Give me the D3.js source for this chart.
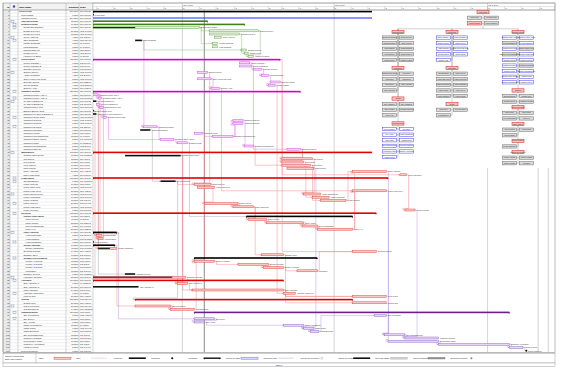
<!DOCTYPE html>
<html><head><meta charset="utf-8">
<script src="https://cdn.jsdelivr.net/npm/d3@7"></script>
<style>body{margin:0;background:#fff}svg{display:block;font-family:"Liberation Sans",Arial,sans-serif}</style>
</head><body><svg id="c" width="561" height="368"></svg>
<script>
// ---------------- DATA ----------------
const taskNames = ["Project Plan","Project Start","Contract Period","Concept Design","Detailed Design","Design Specification","Design Review 1","Design Review 2","Client Approval","Issue Drawings","Update Drawings","Final Drawings","Drawing Sign-off","Design Freeze","Handover to Build",
"Procurement","Tender Package A","Tender Package B","Evaluate Tenders","Supplier Survey","Award Contracts","Order Long Lead Items","Expedite Orders","Goods Inwards","Supplier Audit",
"Transport System","Transport Frame Assy 1","Transport Frame Assy 2","Ice Speed Bracket 1","Ice Speed Bracket 2","Transport Drive Unit","Bracket Sample Sent","Transport Ice Speed Bracket 1","Transport Guide Rails","Transport Test Rig","Transport Controls","Transport Sensors","Transport Rig Build","Transport Wiring","Transport Commissioning","Transport Safety Check","Transport Trials","Transport Modifications","Transport Sign-off",
"Manufacture","Machine Shop Setup","Cut Panels","Fold Panels","Weld Panels","Paint Panels","Panel Assembly","Panel Inspection",
"Frame Build","Jig Manufacture","Frame Cut List","Frame Tack Weld","Frame Final Weld","Frame Stress Relief","Frame Machining","Frame Coating","Frame Trial Fit","Frame Inspection","Frame Release",
"Electrical","Control Panel Build","Panel Layout","Panel Wiring","PLC Programming","Panel FAT","Cable Harness","Harness Design","Harness Build","Harness Sample","Sensor Package","Sensor Calibration","Electrical Checks","Software Spec","Software Development","Module 1 Coding","Module 2 Coding","Module 3 Coding","Integration","Software Review","Hardware Interface",
"Assembly","Sub-Assembly 1","Sub-Assembly 2","Main Assembly","Assembly Inspection","Final Fit Out",
"Testing","System Test","Test Procedures","Test Equipment",
"Commissioning","Site Preparation","Site Survey","Site Access","Install Foundations","Install Frame","Install Electrical","Site Commissioning","Customer Training","Performance Trials","Customer Acceptance","Handover Docs",
"Project Complete"];
const levels = [0,1,1,1,1,2,2,2,2,2,2,2,2,2,2,
1,2,2,2,2,2,2,2,2,2,
1,2,2,2,2,2,2,2,2,2,2,2,2,2,2,2,2,2,2,
1,2,2,2,2,2,2,2,
1,2,2,2,2,2,2,2,2,2,2,
1,2,3,3,3,3,2,3,3,3,2,3,2,2,2,3,3,3,3,2,2,
1,2,2,2,2,2,
1,2,2,2,
1,2,2,2,2,2,2,2,2,2,2,2,
1];
const kinds = ["P","M","B","SG","SG","G","G","G","G","K","G","G","G","G","G",
"SM","MT","MT","MT","MT","MT","MT","MT","MT","MT",
"SM","MT","MT","K","MT","MT","M","K","MT","MT","MT","MT","K","MT","MT","MT","MT","MT","MT",
"SR","K","C","C","C","C","C","C",
"SR","K","C","C","C","C","C","C","C","C","C",
"SR","S","C","C","C","C","S","C","C","M","S","C","C","C","S","C","C","C","C","K","C",
"SR","C","K","C","C","C",
"SR","C","C","C",
"SP","N","N","N","N","N","N","N","N","N","N","N",
"M"];
// bar start / finish, in days from Thu 11/9/06
const fromDays = [0,0,0,0,0,0,69,69,72,25,71,71,88,90,92,
0,87,87,95,62,100,62,105,104,70,
0,0,3,0,2,4,0,0,6,83,83,30,28,60,71,40,50,90,115,
0,19,112,112,112,115,154,182,
0,40,60,62,154,125,130,135,66,83,185,
0,91,92,103,124,133,0,2,3,0,0,3,154,100,60,60,86,101,121,19,0,
0,50,0,59,113,154,
25,154,25,46,
60,167,60,60,113,125,129,173,185,175,205,247,
257];
const toDays = [270,0,274,68,90,63,98,87,76,29,74,74,91,92,95,
111,93,94,100,68,104,70,111,108,75,
123,3,5,2,4,6,0,2,8,89,89,38,34,65,83,48,56,95,123,
168,52,130,125,129,131,174,186,
175,49,70,72,174,135,140,150,86,95,191,
168,154,103,125,133,154,14,5,6,0,13,14,168,113,133,72,104,113,133,25,55,
113,56,27,113,120,174,
154,174,46,60,
247,174,72,66,125,131,134,185,205,205,247,255,
257];
const progressDays = {5:25, 83:47, 74:10};
const links = [[5,6],[5,10],[9,12],[7,13],[6,14],[9,36],[21,24],[38,39],[39,34],[39,35],[34,42],[16,18],[18,20],[20,23],[17,43],
[26,27],[29,30],[30,33],[28,82],[32,74],[33,40],[36,40],[40,41],[37,53],[45,85],[53,54],[54,60],[60,61],[61,65],[65,66],[66,67],[67,68],
[68,50],[68,56],[50,101],[56,103],[51,62],[62,102],[46,57],[47,58],[48,59],[49,99],[43,46],[43,47],[42,48],[69,96],[69,70],[70,71],[73,92],
[92,93],[93,78],[78,79],[79,80],[80,81],[83,85],[85,87],[87,89],[87,91],[96,97],[97,98],[98,99],[99,100],[100,95],[95,101],[101,102],[103,104],
[104,105],[105,106],[59,50],[38,78],[15,75],[24,56],[41,64],[22,51],[23,88],[61,76],[81,75],[76,89],[26,70],[27,71],[31,83],[45,87],[53,90],[19,54]];
const noteRows = [3,4,5,8,9,15,19,25,27,28,33,36,44,52,53,57,60,63,69,72,77,83,84,88,92,94,96];
const markerDays = [66, 264, 270];   // status date, finish markers
const legendItems = ["Task","Split","Progress","Milestone","Summary","Rolled Up Task","Rolled Up Split","Rolled Up Milestone","Rolled Up Progress","External Tasks","Project Summary","External Milestone"];
const headerLabels = ["ID","Task Name","Duration","Start"];

// ---------------- SETUP ----------------
const svg = d3.select('#c');
svg.append('rect').attr('width',561).attr('height',368).attr('fill','#fff');
const colX = [3,10,18,66,79,93];
const GX0 = 93, GX1 = 555, TOP = 3, HB = 10, RH = 3.2;
const n = taskNames.length;
const rowY = i => HB + RH*i;
const rowC = i => HB + RH*(i+0.5);
const TB = rowY(n);
const origin = new Date(2006,10,9);
const x = d3.scaleTime().domain([origin, new Date(2007,7,10)]).range([GX0,GX1]);
const dx = d => x(d3.timeDay.offset(origin,d));
const fmt = d3.timeFormat('%a %-m/%-d/%y');

// ---------------- TABLE ----------------
const tbl = svg.append('g');
tbl.append('rect').attr('x',3).attr('y',TOP).attr('width',90).attr('height',HB-TOP).attr('fill','#f2f2f2');
tbl.append('rect').attr('x',3).attr('y',HB).attr('width',7).attr('height',TB-HB).attr('fill','#ececec');
tbl.selectAll('line.r').data(d3.range(n+1)).join('line')
  .attr('x1',3).attr('x2',GX0).attr('y1',rowY).attr('y2',rowY).attr('stroke','#c4c4c4').attr('stroke-width',0.3);
tbl.selectAll('line.c').data(colX).join('line')
  .attr('x1',d=>d).attr('x2',d=>d).attr('y1',TOP).attr('y2',TB).attr('stroke','#999').attr('stroke-width',0.4);
const hx = [9.5,19,78.5,80];
tbl.selectAll('text.h').data(headerLabels).join('text')
  .attr('x',(d,i)=>hx[i]).attr('y',7.6).attr('font-size',2.4).attr('font-weight','bold')
  .attr('text-anchor',(d,i)=>i==0||i==2?'end':'start').text(d=>d);
tbl.append('circle').attr('cx',14).attr('cy',6.5).attr('r',1.2).attr('fill','#3050c0');
const isSum = k => ['P','S','SR','SM','SG','SP'].includes(k);
const rows = d3.range(n);
tbl.selectAll('text.id').data(rows).join('text').attr('x',9.5).attr('y',i=>rowC(i)+0.8)
  .attr('font-size',2.1).attr('text-anchor','end').attr('fill','#333').text(i=>i+1);
tbl.selectAll('text.nm').data(rows).join('text').attr('x',i=>19+levels[i]*2.2).attr('y',i=>rowC(i)+0.8)
  .attr('font-size',2.2).attr('font-weight',i=>isSum(kinds[i])?'bold':'normal').attr('fill','#222').text(i=>taskNames[i]);
tbl.selectAll('text.du').data(rows).join('text').attr('x',78.3).attr('y',i=>rowC(i)+0.8)
  .attr('font-size',2.1).attr('text-anchor','end').attr('fill','#222')
  .text(i=>{const d=toDays[i]-fromDays[i]; return d==1?'1 day':d+' days';});
tbl.selectAll('text.st').data(rows).join('text').attr('x',80).attr('y',i=>rowC(i)+0.8)
  .attr('font-size',2.1).attr('fill','#222').text(i=>fmt(d3.timeDay.offset(origin,fromDays[i])));
tbl.selectAll('rect.note').data(noteRows).join('rect').attr('x',(d,j)=>j%3==0?11:13).attr('y',i=>rowY(i)+0.6)
  .attr('width',3).attr('height',2).attr('fill','#fff').attr('stroke','#4a6a9a').attr('stroke-width',0.35);

// ---------------- GANTT ----------------
const gan = svg.append('g');
svg.append('clipPath').attr('id','gclip').append('rect').attr('x',GX0).attr('y',HB).attr('width',GX1-GX0).attr('height',TB-HB);
const gc = gan.append('g').attr('clip-path','url(#gclip)');
const qTicks = d3.timeMonth.every(3).range(origin, new Date(2007,7,10));
gc.selectAll('line.q').data(qTicks).join('line').attr('x1',x).attr('x2',x).attr('y1',HB).attr('y2',TB)
  .attr('stroke','#b8b8b8').attr('stroke-width',0.6);
gc.selectAll('line.m').data(markerDays).join('line').attr('x1',dx).attr('x2',dx).attr('y1',HB).attr('y2',TB)
  .attr('stroke',(d,i)=>i==0?'#8a8a8a':'#b0b0b0').attr('stroke-width',(d,i)=>i==0?1:0.6);

// links
const linkColor = k => k=='C'?'#f08c8c':k=='N'?'#b89ae0':k=='MT'?'#e07ef0':k=='G'?'#8fc27a':'#a8a8a8';
const defs = svg.append('defs');
const lcols = ['#f08c8c','#b89ae0','#e07ef0','#8fc27a','#a8a8a8'];
lcols.forEach((c,j)=>{
  defs.append('marker').attr('id','ar'+j).attr('viewBox','0 0 4 4').attr('refX',4).attr('refY',2)
   .attr('markerWidth',1.4).attr('markerHeight',1.4).attr('markerUnits','userSpaceOnUse').attr('orient','auto')
   .append('path').attr('d','M0,0L4,2L0,4Z').attr('fill',c);
});
gc.selectAll('path.lk').data(links).join('path')
  .attr('d',([p,s])=>{
    const x1=dx(toDays[p]), y1=rowC(p), x2=dx(fromDays[s]), y2=rowC(s), xv=x1+2;
    if (x2>=xv+1) return `M${x1},${y1}H${xv}V${y2}H${x2}`;
    const yb = y2>y1 ? y2-RH/2 : y2+RH/2;
    return `M${x1},${y1}H${xv}V${yb}H${x2-2}V${y2}H${x2}`;
  })
  .attr('fill','none').attr('stroke',([p,s])=>linkColor(kinds[s])).attr('stroke-width',0.5)
  .attr('marker-end',([p,s])=>`url(#ar${lcols.indexOf(linkColor(kinds[s]))})`);

// bars
const sumColor = {P:'#000',S:'#000',SR:'#e00000',SM:'#d000d0',SG:'#3f7f1c',SP:'#6a1f8a'};
const taskStyle = {C:['#f9c9c9','#e23a3a'],N:['#e4d6f4','#8e62c2'],MT:['#f4d2f8','#c64ee0'],G:['#e4f2dc','#5e9e42']};
rows.forEach(i=>{
  const k=kinds[i], a=dx(fromDays[i]), b=dx(toDays[i]), c=rowC(i);
  if (isSum(k)) {
    const col=sumColor[k], th = 1.6;
    gc.append('rect').attr('x',a).attr('y',c-th/2).attr('width',b-a).attr('height',th).attr('fill',col);
    gc.append('path').attr('d',`M${b-1.2},${c}L${b+0.6},${c}L${b-0.3},${c+1.5}Z`).attr('fill',col);
    gc.append('path').attr('d',`M${a-0.6},${c}L${a+1.2},${c}L${a+0.3},${c+1.5}Z`).attr('fill',col);
  } else if (k=='B') {
    gc.append('rect').attr('x',a).attr('y',c-0.5).attr('width',b-a).attr('height',1).attr('fill','#1a2bff');
  } else if (k=='K') {
    gc.append('rect').attr('x',a).attr('y',c-0.8).attr('width',b-a).attr('height',1.6).attr('fill','#111');
  } else if (k=='M') {
    gc.append('path').attr('d',`M${a},${c-1.2}L${a+1.2},${c}L${a},${c+1.2}L${a-1.2},${c}Z`).attr('fill','#111');
  } else {
    const [f,s]=taskStyle[k];
    gc.append('rect').attr('x',a).attr('y',c-1).attr('width',b-a).attr('height',2).attr('fill',f).attr('stroke',s).attr('stroke-width',0.45);
    if (progressDays[i]!==undefined) gc.append('rect').attr('x',a).attr('y',c-0.5).attr('width',dx(progressDays[i])-a).attr('height',1).attr('fill','#111');
  }
  if (!isSum(k) && k!='B') {
    gc.append('text').attr('x',b+1.6).attr('y',c+0.7).attr('font-size',1.8).attr('fill','#333').text(taskNames[i]);
  }
});

// ---------------- WBS CHART ----------------
const nodes = rows.map(i=>({i,level:levels[i],kind:kinds[i],children:[]}));
const stack=[];
nodes.forEach(nd=>{ while(stack.length && stack[stack.length-1].level>=nd.level) stack.pop();
  if(stack.length) stack[stack.length-1].children.push(nd); stack.push(nd); });
const root = nodes[0];
const WX0=372, WX1=555, WY0=9, WY1=168;
const wbs = svg.append('g');
wbs.append('rect').attr('x',WX0).attr('y',WY0).attr('width',WX1-WX0).attr('height',WY1-WY0).attr('fill','#fff');
const boxes=[], conns=[];
const STEP=5.6, BH=3.3, BW=14, HW=12;
const boxStyle = k => isSum(k)?['#f6c4c4','#e01818']:(k=='N'||k=='MT')?['#ffffff','#4040f0']:['#dcdcdc','#6a6a6a'];
function place(nd, cx, y0) {
  boxes.push({nd,x:cx-HW/2,y:y0,w:HW});
  let y = y0+STEP;
  const leaves = nd.children.filter(c=>!c.children.length), inner = nd.children.filter(c=>c.children.length);
  let last = y0+BH;
  leaves.forEach((c,k)=>{
    const left = k%2==0, by = y+Math.floor(k/2)*STEP;
    const bx = left ? cx-1.5-BW : cx+1.5;
    boxes.push({nd:c,x:bx,y:by,w:BW});
    conns.push(`M${cx},${by+BH/2}H${left?bx+BW:bx}`);
    last = by+BH/2;
  });
  y += Math.ceil(leaves.length/2)*STEP;
  inner.forEach(c=>{
    last = y;
    y = place(c, cx, y);
  });
  conns.push(`M${cx},${y0+BH}V${last}`);
  return y;
}
const rootLeaves = root.children.filter(c=>!c.children.length);
const groups = root.children.filter(c=>c.children.length);
const rootCX = 483, rootY = WY0+1.5;
boxes.push({nd:root,x:rootCX-HW/2,y:rootY,w:HW});
let ry = rootY+STEP;
rootLeaves.forEach((c,k)=>{
  const left=k%2==0, by = ry+Math.floor(k/2)*STEP, bx = left? rootCX-1.5-BW : rootCX+1.5;
  boxes.push({nd:c,x:bx,y:by,w:BW});
  conns.push(`M${rootCX},${by+BH/2}H${left?bx+BW:bx}`);
});
const colTop = ry+Math.ceil(rootLeaves.length/2)*STEP+3;
const colCX = [398, 452, 518];
const heights = colCX.map(()=>colTop);
conns.push(`M${rootCX},${rootY+BH}V${colTop-1.5}`);
conns.push(`M${colCX[0]},${colTop-1.5}H${colCX[2]}`);
groups.forEach(gp=>{
  const cI = heights.indexOf(d3.min(heights));
  const cx = colCX[cI];
  conns.push(`M${cx},${colTop-1.5}V${heights[cI]}`);
  heights[cI] = place(gp, cx, heights[cI]) + 2.5;
});
wbs.selectAll('path.cn').data(conns).join('path').attr('d',d=>d).attr('fill','none').attr('stroke','#9a9a9a').attr('stroke-width',0.45);
wbs.selectAll('rect.bx').data(boxes).join('rect').attr('x',d=>d.x).attr('y',d=>d.y).attr('width',d=>d.w).attr('height',BH)
  .attr('fill',d=>boxStyle(d.nd.kind)[0]).attr('stroke',d=>boxStyle(d.nd.kind)[1]).attr('stroke-width',0.5);
wbs.selectAll('text.bx').data(boxes).join('text').attr('x',d=>d.x+d.w/2).attr('y',d=>d.y+2.2).attr('text-anchor','middle')
  .attr('font-size',1.5).attr('fill','#222').text(d=>taskNames[d.nd.i]);

// ---------------- TIMESCALE HEADER ----------------
const hdr = svg.append('g');
hdr.append('rect').attr('x',GX0).attr('y',TOP).attr('width',GX1-GX0).attr('height',HB-TOP).attr('fill','#fff').attr('stroke','#999').attr('stroke-width',0.4);
hdr.append('line').attr('x1',GX0).attr('x2',GX1).attr('y1',6.6).attr('y2',6.6).attr('stroke','#999').attr('stroke-width',0.3);
const minorInt = d3.timeDay.filter(d=>[1,11,21].includes(d.getDate()));
const minor = minorInt.range(origin, new Date(2007,7,10));
hdr.selectAll('line.mi').data(minor).join('line').attr('x1',x).attr('x2',x).attr('y1',6.6).attr('y2',HB).attr('stroke','#999').attr('stroke-width',0.3);
hdr.selectAll('text.mi').data(minor).join('text').attr('x',d=>x(d)+1).attr('y',9.2).attr('font-size',1.7).attr('fill','#444')
  .text(d=>d.getDate()==1?'B':d.getDate()==11?'M':'E');
hdr.selectAll('line.qt').data(qTicks).join('line').attr('x1',x).attr('x2',x).attr('y1',TOP).attr('y2',HB).attr('stroke','#999').attr('stroke-width',0.4);
hdr.selectAll('text.qt').data(qTicks).join('text').attr('x',d=>x(d)+1).attr('y',5.6).attr('font-size',1.9).attr('fill','#333')
  .text(d=>`Qtr ${Math.floor(d.getMonth()/3)+1}, ${d.getFullYear()}`);
hdr.append('line').attr('x1',3).attr('x2',GX1).attr('y1',HB).attr('y2',HB).attr('stroke','#777').attr('stroke-width',0.5);

// ---------------- LEGEND & FOOTER ----------------
const LY0 = TB+1, LY1 = 363;
const lg = svg.append('g');
lg.append('rect').attr('x',3).attr('y',LY0).attr('width',GX1-3).attr('height',LY1-LY0).attr('fill','#fff').attr('stroke','#888').attr('stroke-width',0.4);
lg.append('line').attr('x1',36).attr('x2',36).attr('y1',LY0).attr('y2',LY1).attr('stroke','#888').attr('stroke-width',0.4);
lg.append('text').attr('x',5).attr('y',LY0+3.5).attr('font-size',2.1).text('Project: Project Plan');
lg.append('text').attr('x',5).attr('y',LY0+6.5).attr('font-size',2.1).text('Date: Mon 1/15/07');
const ly = (LY0+LY1)/2;
legendItems.forEach((t,j)=>{
  const lx = 39 + j*37.4;
  lg.append('text').attr('x',lx).attr('y',ly+0.8).attr('font-size',2.1).attr('fill','#222').text(t);
  const sx = lx+15;
  if (j==0) lg.append('rect').attr('x',sx).attr('y',ly-1).attr('width',17).attr('height',2).attr('fill','#f9c9c9').attr('stroke','#e23a3a').attr('stroke-width',0.45);
  else if (j==1) lg.append('line').attr('x1',sx).attr('x2',sx+15).attr('y1',ly).attr('y2',ly).attr('stroke','#e23a3a').attr('stroke-width',0.4).attr('stroke-dasharray','1,1');
  else if (j==2 || j==8) lg.append('rect').attr('x',sx).attr('y',ly-0.8).attr('width',17).attr('height',1.6).attr('fill','#111');
  else if (j==3 || j==11) lg.append('path').attr('d',`M${sx+6},${ly-1.3}L${sx+7.3},${ly}L${sx+6},${ly+1.3}L${sx+4.7},${ly}Z`).attr('fill',j==3?'#111':'#888');
  else if (j==4) { lg.append('rect').attr('x',sx).attr('y',ly-0.7).attr('width',17).attr('height',1.4).attr('fill','#111');
    lg.append('path').attr('d',`M${sx},${ly}h1.6l-0.8,1.4z M${sx+17},${ly}h-1.6l0.8,1.4z`).attr('fill','#111'); }
  else if (j==5) lg.append('rect').attr('x',sx).attr('y',ly-1).attr('width',17).attr('height',2).attr('fill','#d8d8ff').attr('stroke','#6a6ae0').attr('stroke-width',0.45);
  else if (j==6) lg.append('line').attr('x1',sx).attr('x2',sx+15).attr('y1',ly).attr('y2',ly).attr('stroke','#8a8ae0').attr('stroke-width',0.4);
  else if (j==7) lg.append('path').attr('d',`M${sx+6},${ly-1.3}L${sx+7.3},${ly}L${sx+6},${ly+1.3}L${sx+4.7},${ly}Z`).attr('fill','none').attr('stroke','#555').attr('stroke-width',0.3);
  else if (j==9) lg.append('rect').attr('x',sx).attr('y',ly-1).attr('width',17).attr('height',2).attr('fill','#cfcfcf').attr('stroke','#aaa').attr('stroke-width',0.3);
  else if (j==10) { lg.append('rect').attr('x',sx).attr('y',ly-0.8).attr('width',17).attr('height',1.6).attr('fill','#999').attr('stroke','#555').attr('stroke-width',0.3); }
});
lg.append('rect').attr('x',3).attr('y',LY1).attr('width',GX1-3).attr('height',3.8).attr('fill','#fff').attr('stroke','#888').attr('stroke-width',0.4);
lg.append('text').attr('x',279).attr('y',LY1+2.7).attr('font-size',2.1).attr('text-anchor','middle').text('Page 1');
svg.append('rect').attr('x',3).attr('y',TOP).attr('width',GX1-3).attr('height',TB-TOP).attr('fill','none').attr('stroke','#777').attr('stroke-width',0.5);
</script></body></html>
